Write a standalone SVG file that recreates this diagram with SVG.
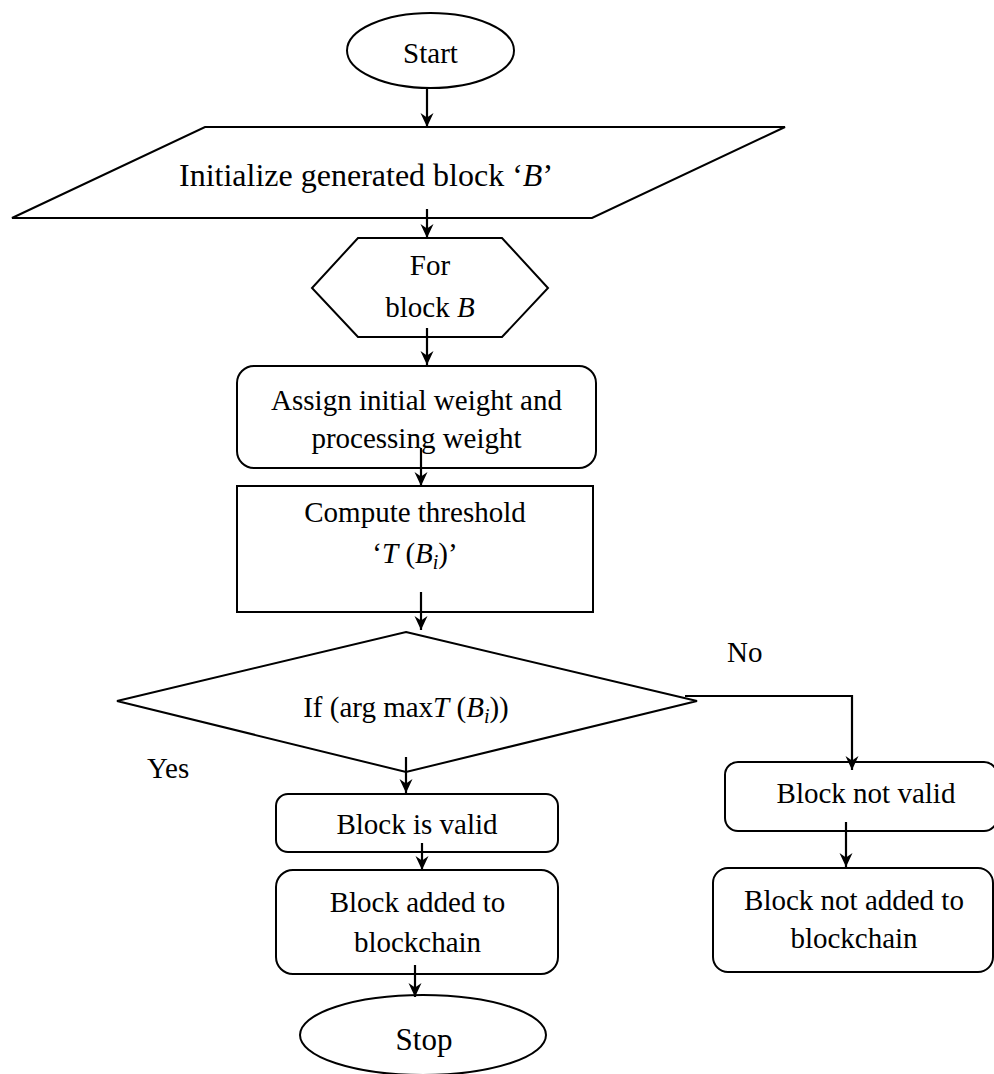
<svg xmlns="http://www.w3.org/2000/svg" width="994" height="1074" viewBox="0 0 994 1074">
  <style>
    .shape { fill: #ffffff; stroke: #000000; stroke-width: 2; }
    .edge { fill: none; stroke: #000000; stroke-width: 2.2; }
    .label { font-family: "Liberation Serif", "Times New Roman", serif; font-size: 29px; fill: #000000; }
    .mid { text-anchor: middle; }
    .it { font-style: italic; }
    .sub { font-size: 20px; font-style: italic; }
  </style>
  <defs>
    <marker id="arrow" markerUnits="userSpaceOnUse" markerWidth="16" markerHeight="14" refX="14" refY="6.5" orient="auto">
      <path d="M0,0 L14,6.5 L0,13 L4.5,6.5 Z" fill="#000000"/>
    </marker>
  </defs>

  <rect width="994" height="1074" fill="#ffffff"/>

  <!-- Start terminator -->
  <g id="start">
    <ellipse class="shape" cx="430.5" cy="50.5" rx="83.5" ry="37.5"/>
    <text class="label mid" x="430.5" y="63">Start</text>
  </g>

  <!-- Input: initialize block -->
  <g id="init">
    <polygon class="shape" points="205,127 785,127 592,218 12,218"/>
    <text class="label" x="179" y="186" style="font-size:32px">Initialize generated block ‘<tspan class="it">B</tspan>’</text>
  </g>

  <!-- Loop header -->
  <g id="loop">
    <polygon class="shape" points="358,238 502,238 548,288 502,337 358,337 312,288"/>
    <text class="label mid" x="430" y="275">For</text>
    <text class="label mid" x="430" y="317">block <tspan class="it">B</tspan></text>
  </g>

  <!-- Weight assignment -->
  <g id="assign">
    <rect class="shape" x="237" y="366" width="359" height="102" rx="17" ry="17"/>
    <text class="label mid" x="416.5" y="410">Assign initial weight and</text>
    <text class="label mid" x="416.5" y="448">processing weight</text>
  </g>

  <!-- Threshold computation -->
  <g id="threshold">
    <rect class="shape" x="237" y="486" width="356" height="126"/>
    <text class="label mid" x="415" y="522">Compute threshold</text>
    <text class="label mid" x="415" y="563">‘<tspan class="it">T</tspan> (<tspan class="it">B</tspan><tspan class="sub" dy="6">i</tspan><tspan dy="-6">)’</tspan></text>
  </g>

  <!-- Decision -->
  <g id="decision">
    <polygon class="shape" points="406,632 697,701 406,772 117,701"/>
    <text class="label mid" x="406" y="717">If (arg max<tspan class="it">T</tspan> (<tspan class="it">B</tspan><tspan class="sub" dy="6">i</tspan><tspan dy="-6">))</tspan></text>
  </g>

  <!-- Valid branch -->
  <g id="valid">
    <rect class="shape" x="276" y="794" width="282" height="58" rx="12" ry="12"/>
    <text class="label mid" x="417" y="834">Block is valid</text>
  </g>

  <g id="added">
    <rect class="shape" x="276" y="870" width="282" height="104" rx="17" ry="17"/>
    <text class="label mid" x="417.5" y="912">Block added to</text>
    <text class="label mid" x="417.5" y="952">blockchain</text>
  </g>

  <g id="stop">
    <ellipse class="shape" cx="423" cy="1035" rx="123" ry="40"/>
    <text class="label mid" x="424" y="1050" style="font-size:31px">Stop</text>
  </g>

  <!-- Invalid branch -->
  <g id="invalid">
    <rect class="shape" x="725" y="762" width="272" height="69" rx="13" ry="13"/>
    <text class="label mid" x="866" y="803">Block not valid</text>
  </g>

  <g id="notadded">
    <rect class="shape" x="713" y="868" width="280" height="104" rx="15" ry="15"/>
    <text class="label mid" x="854" y="910">Block not added to</text>
    <text class="label mid" x="854" y="948">blockchain</text>
  </g>

  <!-- Connectors -->
  <g id="connectors">
    <line class="edge" x1="427" y1="88" x2="427" y2="127" marker-end="url(#arrow)"/>
    <line class="edge" x1="427" y1="209" x2="427" y2="238" marker-end="url(#arrow)"/>
    <line class="edge" x1="427" y1="328" x2="427" y2="365" marker-end="url(#arrow)"/>
    <line class="edge" x1="421" y1="448" x2="421" y2="486" marker-end="url(#arrow)"/>
    <line class="edge" x1="421" y1="592" x2="421" y2="630" marker-end="url(#arrow)"/>
    <line class="edge" x1="406" y1="757" x2="406" y2="793" marker-end="url(#arrow)"/>
    <line class="edge" x1="422" y1="843" x2="422" y2="870" marker-end="url(#arrow)"/>
    <line class="edge" x1="415" y1="965" x2="415" y2="997" marker-end="url(#arrow)"/>
    <polyline class="edge" points="685,696 852,696 852,770" marker-end="url(#arrow)"/>
    <line class="edge" x1="846" y1="822" x2="846" y2="867" marker-end="url(#arrow)"/>
  </g>

  <!-- Branch labels -->
  <g id="labels">
    <text class="label" x="727" y="662">No</text>
    <text class="label" x="147" y="778">Yes</text>
  </g>
</svg>
